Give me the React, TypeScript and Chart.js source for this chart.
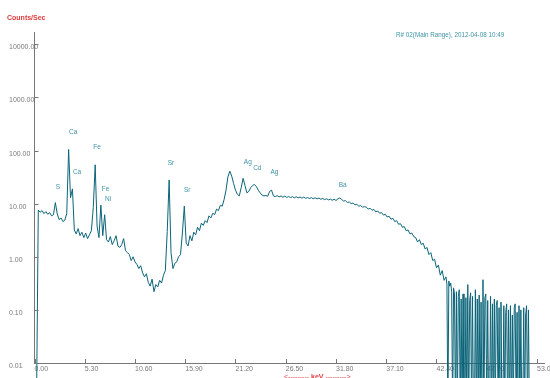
import React, { useEffect, useRef } from "react";
import { Chart, registerables } from "chart.js";

Chart.register(...registerables);

// ---- data: counts per second ----
// main spectrum, one value every ENERGY_STEP_KEV keV starting at 0 keV
const ENERGY_STEP_KEV = 0.2;
// 0.001 stands for an empty channel (zero counts), drawn below the axis floor
const COUNTS_0_TO_5 = [
  0.001, 0.001, 7.6, 6.9, 7.4, 6.5, 7.1, 6.3, 6.8, 5.9,
  6.2, 10.5, 6.4, 5.0, 5.4, 4.6, 4.9, 6.5, 105, 13,
  19, 3.2, 2.7, 3.4, 2.5,
];
const COUNTS_5_TO_10 = [
  2.9, 2.3, 2.8, 2.2, 2.6, 3.1, 8.5, 54, 3.8, 2.3,
  9.4, 2.5, 6.2, 2.1, 1.9, 2.4, 1.7, 2.0, 2.5, 1.6,
  1.5, 1.7, 2.2, 1.3, 1.2,
];
const COUNTS_10_TO_15 = [
  1.1, 0.85, 1.0, 0.8, 0.72, 0.6, 0.68, 0.5, 0.42, 0.48,
  0.33, 0.28, 0.38, 0.22, 0.3, 0.27, 0.36, 0.32, 0.45, 0.55,
  3.0, 28, 1.2, 0.6, 0.75,
];
const COUNTS_15_TO_20 = [
  0.8, 1.0, 1.1, 2.8, 9.0, 1.8, 1.6, 2.5, 2.0, 2.9,
  2.6, 3.6, 3.1, 4.3, 3.9, 4.8, 4.4, 5.9, 5.4, 6.6,
  6.2, 7.9, 7.4, 9.3, 9.0,
];
const COUNTS_20_TO_25 = [
  12, 18, 32, 41, 33, 24, 18, 15, 14, 20,
  30, 22, 16, 17, 20, 22, 23, 21, 18, 16,
  14.5, 14, 14.3, 13.8, 17,
];
const COUNTS_25_TO_30 = [
  18, 14, 13.6, 14.2, 13.4, 14.0, 13.2, 13.9, 13.1, 13.7,
  13.0, 13.6, 12.9, 13.5, 12.8, 13.4, 12.7, 13.3, 12.6, 13.1,
  12.5, 13.0, 12.4, 12.9, 12.3,
];
const COUNTS_30_TO_35 = [
  12.8, 12.1, 12.6, 11.9, 12.4, 11.8, 12.2, 11.6, 12.1, 11.5,
  12.3, 12.8, 12.0, 11.2, 11.4, 10.5, 10.8, 10.0, 10.3, 9.5,
  9.7, 9.0, 9.2, 8.6, 8.8,
];
const COUNTS_35_TO_40 = [
  8.6, 7.9, 8.2, 7.5, 7.8, 7.0, 7.3, 6.6, 6.8, 6.1,
  6.3, 5.6, 5.8, 5.1, 5.3, 4.6, 4.8, 4.1, 4.2, 3.6,
  3.7, 3.1, 3.2, 2.7, 2.8,
];
const COUNTS_40_TO_43_4 = [
  2.4, 2.3, 1.9, 2.1, 1.7, 1.8, 1.4, 1.5, 1.1, 1.2,
  0.85, 0.9, 0.62, 0.7, 0.45, 0.55, 0.36, 0.42,
];
// noisy high-energy tail, finer step
const TAIL_START_KEV = 43.4;
const TAIL_STEP_KEV = 0.1;
const COUNTS_TAIL = [
  0.42, 0.3, 0.001, 0.35, 0.28, 0.32, 0.22, 0.001, 0.26, 0.2,
  0.001, 0.22, 0.001, 0.18, 0.24, 0.001, 0.16, 0.001, 0.2, 0.001,
  0.001, 0.17, 0.001, 0.3, 0.001, 0.15, 0.21, 0.001, 0.18, 0.001,
  0.001, 0.24, 0.001, 0.16, 0.001, 0.19, 0.001, 0.14, 0.001, 0.37,
  0.001, 0.17, 0.2, 0.001, 0.15, 0.001, 0.001, 0.18, 0.001, 0.13,
  0.001, 0.16, 0.001, 0.12, 0.15, 0.001, 0.11, 0.001, 0.14, 0.001,
  0.001, 0.12, 0.001, 0.09, 0.13, 0.001, 0.1, 0.001, 0.12, 0.001,
  0.08, 0.001, 0.11, 0.13, 0.001, 0.09, 0.001, 0.12, 0.001, 0.1,
  0.001, 0.001, 0.11, 0.001, 0.08, 0.12, 0.001, 0.1, 0.001,
];

const X_TICKS = [0, 5.3, 10.6, 15.9, 21.2, 26.5, 31.8, 37.1, 42.4, 47.7, 53.0];
const Y_TICKS = [0.01, 0.1, 1, 10, 100, 1000, 10000];
const X_MIN = 0;
const X_MAX = 53;
const Y_MIN = 0.01;
const Y_MAX = 17100;

// element labels: name, energy (keV) and count level where the label sits
const PEAK_NAMES = ["S", "Ca", "Ca", "Fe", "Fe", "Ni", "Sr", "Sr", "Ag", "Cd", "Ag", "Ba"];
const PEAK_ENERGY = [2.48, 4.07, 4.49, 6.6, 7.5, 7.76, 14.4, 16.1, 22.5, 23.5, 25.3, 32.5];
const PEAK_LEVEL = [20.6, 224, 39.5, 117, 18.9, 12.3, 58, 18.1, 61, 47, 39.5, 22.5];

const Y_TITLE = "Counts/Sec";
const RUN_INFO = "R# 02(Main Range), 2012-04-08 10:49";
const X_UNIT_LEFT = "<--------- ";
const X_UNIT_MID = "keV";
const X_UNIT_RIGHT = " --------->";

const LINE_COLOR = "#0b6479";
const AXIS_COLOR = "#777777";
const TICK_TEXT = "#7a7a7a";
const LABEL_TEAL = "#3f93a6";
const RED = "#e0393c";
const FONT = "'Liberation Sans', Arial, sans-serif";

const fmt2 = (v: number) => Number(v).toFixed(2);

const decorPlugin = {
  id: "decor",
  afterDraw(chart: any) {
    const { ctx, chartArea, scales } = chart;
    const xs = scales.x;
    const ys = scales.y;
    ctx.save();
    ctx.strokeStyle = AXIS_COLOR;
    ctx.lineWidth = 1;
    ctx.beginPath();
    Y_TICKS.forEach((v) => {
      const py = Math.round(ys.getPixelForValue(v)) + 0.5;
      ctx.moveTo(chartArea.left, py);
      ctx.lineTo(chartArea.left + 4, py);
    });
    X_TICKS.forEach((v) => {
      const px = Math.round(xs.getPixelForValue(v)) + 0.5;
      ctx.moveTo(px, chartArea.bottom);
      ctx.lineTo(px, chartArea.bottom - 4);
    });
    const by = Math.round(chartArea.bottom) + 0.5;
    ctx.moveTo(chartArea.right, by);
    ctx.lineTo(chartArea.right + 8, by);
    ctx.stroke();

    // y tick labels (left aligned in the margin)
    ctx.fillStyle = TICK_TEXT;
    ctx.font = `7px ${FONT}`;
    ctx.textAlign = "left";
    ctx.textBaseline = "middle";
    Y_TICKS.forEach((v) => {
      ctx.fillText(fmt2(v), 9, ys.getPixelForValue(v) + 3);
    });

    // element labels
    ctx.fillStyle = LABEL_TEAL;
    ctx.font = `6.5px ${FONT}`;
    ctx.textAlign = "center";
    PEAK_NAMES.forEach((n, i) => {
      ctx.fillText(n, xs.getPixelForValue(PEAK_ENERGY[i]), ys.getPixelForValue(PEAK_LEVEL[i]));
    });

    // titles
    ctx.textAlign = "left";
    ctx.fillStyle = RED;
    ctx.font = `bold 7px ${FONT}`;
    ctx.fillText(Y_TITLE, 7, 18);

    ctx.fillStyle = LABEL_TEAL;
    ctx.font = `6.3px ${FONT}`;
    ctx.fillText(RUN_INFO, 396, 35);

    // unit under the x axis
    ctx.fillStyle = RED;
    ctx.font = `7px ${FONT}`;
    let ux = 284;
    const uy = 377;
    ctx.fillText(X_UNIT_LEFT, ux, uy);
    ux += ctx.measureText(X_UNIT_LEFT).width;
    ctx.font = `bold 7px ${FONT}`;
    ctx.fillText(X_UNIT_MID, ux, uy);
    ux += ctx.measureText(X_UNIT_MID).width;
    ctx.font = `7px ${FONT}`;
    ctx.fillText(X_UNIT_RIGHT, ux, uy);
    ctx.restore();
  },
};

export default function App() {
  const canvasRef = useRef<HTMLCanvasElement | null>(null);

  useEffect(() => {
    const canvas = canvasRef.current;
    if (!canvas) return;
    const counts = [
      ...COUNTS_0_TO_5,
      ...COUNTS_5_TO_10,
      ...COUNTS_10_TO_15,
      ...COUNTS_15_TO_20,
      ...COUNTS_20_TO_25,
      ...COUNTS_25_TO_30,
      ...COUNTS_30_TO_35,
      ...COUNTS_35_TO_40,
      ...COUNTS_40_TO_43_4,
    ];
    const mainPoints = counts.map((c, i) => ({ x: Math.round(i * ENERGY_STEP_KEV * 10) / 10, y: c }));
    const tailPoints = COUNTS_TAIL.map((c, i) => ({
      x: Math.round((TAIL_START_KEV + i * TAIL_STEP_KEV) * 10) / 10,
      y: c,
    }));
    const lineStyle = {
      borderColor: LINE_COLOR,
      borderWidth: 1,
      pointRadius: 0,
      tension: 0,
      fill: false,
      clip: false as any,
    };

    const chart = new Chart(canvas, {
      type: "line",
      data: {
        datasets: [
          { data: mainPoints, ...lineStyle },
          { data: tailPoints, ...lineStyle },
        ],
      },
      options: {
        animation: false,
        responsive: false,
        maintainAspectRatio: false,
        events: [],
        layout: { padding: { top: 32, right: 13, bottom: 0, left: 0 } },
        plugins: {
          legend: { display: false },
          tooltip: { enabled: false },
          title: { display: false },
        },
        scales: {
          x: {
            type: "linear",
            min: X_MIN,
            max: X_MAX,
            grid: { display: false, drawTicks: false },
            border: { display: true, color: AXIS_COLOR, width: 1 },
            afterBuildTicks: (s: any) => {
              s.ticks = X_TICKS.map((v) => ({ value: v }));
            },
            ticks: {
              align: "start",
              padding: 2,
              color: TICK_TEXT,
              autoSkip: false,
              maxRotation: 0,
              minRotation: 0,
              font: { size: 7, family: FONT },
              callback: (v: any) => fmt2(v),
            },
            afterFit: (s: any) => {
              s.height = 15;
              s.paddingLeft = 0;
              s.paddingRight = 0;
            },
          },
          y: {
            type: "logarithmic",
            min: Y_MIN,
            max: Y_MAX,
            grid: { display: false, drawTicks: false },
            border: { display: true, color: AXIS_COLOR, width: 1 },
            afterBuildTicks: (s: any) => {
              s.ticks = Y_TICKS.map((v) => ({ value: v }));
            },
            ticks: { display: false },
            afterFit: (s: any) => {
              s.width = 34.5;
              s.paddingTop = 0;
              s.paddingBottom = 0;
            },
          },
        },
      } as any,
      plugins: [decorPlugin],
    });
    return () => chart.destroy();
  }, []);

  return (
    <div style={{ position: "absolute", left: 0, top: 0, width: 550, height: 378, background: "#ffffff" }}>
      <canvas ref={canvasRef} width={550} height={378} style={{ display: "block", width: 550, height: 378 }} />
    </div>
  );
}
